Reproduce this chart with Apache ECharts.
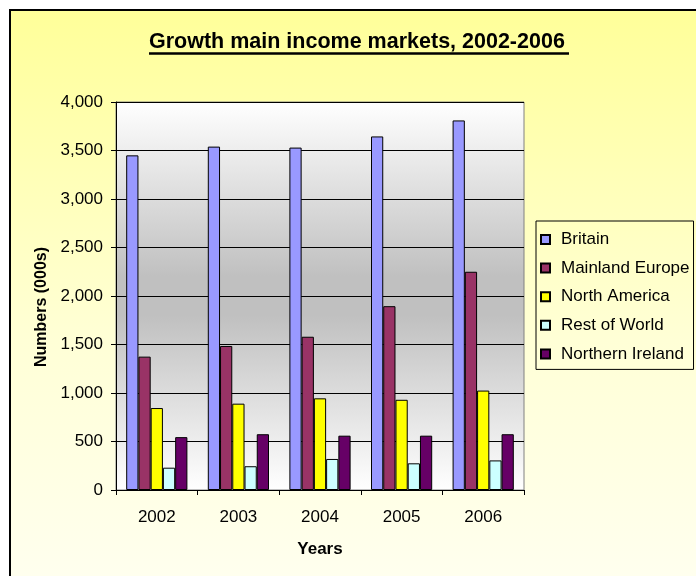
<!DOCTYPE html>
<html>
<head>
<meta charset="utf-8">
<style>
  html, body { margin: 0; padding: 0; background: #ffffff; }
  #chart { width: 696px; height: 576px; }
</style>
<script src="https://cdn.jsdelivr.net/npm/echarts@6/dist/echarts.min.js"></script>
</head>
<body>
<div id="chart"></div>
<script>
const categories = ['2002', '2003', '2004', '2005', '2006'];
const seriesNames = ['Britain', 'Mainland Europe', 'North America', 'Rest of World', 'Northern Ireland'];
const britain = [3450, 3540, 3530, 3645, 3810];
const mainlandEurope = [1375, 1485, 1580, 1895, 2250];
const northAmerica = [845, 890, 945, 930, 1025];
const restOfWorld = [230, 245, 320, 275, 305];
const northernIreland = [545, 575, 560, 560, 575];
const seriesColors = ['#9999FF', '#993366', '#FFFF00', '#CCFFFF', '#660066'];
const yTicks = [0, 500, 1000, 1500, 2000, 2500, 3000, 3500, 4000];

const FONT = "'Liberation Sans', Arial, sans-serif";
const allData = [britain, mainlandEurope, northAmerica, restOfWorld, northernIreland];

const chart = echarts.init(document.getElementById('chart'), null, { renderer: 'canvas' });

const option = {
  backgroundColor: '#ffffff',
  animation: false,
  textStyle: { fontFamily: FONT },
  graphic: [
    {
      type: 'rect',
      z: -100,
      silent: true,
      shape: { x: 10, y: 10, width: 720, height: 600 },
      style: {
        fill: new echarts.graphic.LinearGradient(0, 0, 0, 1, [
          { offset: 0, color: '#FFFF99' },
          { offset: 0.55, color: '#FFFFD6' },
          { offset: 1, color: '#FFFFF2' }
        ]),
        stroke: '#000000',
        lineWidth: 2
      }
    },
    {
      type: 'line',
      silent: true,
      shape: { x1: 149, y1: 53.5, x2: 569, y2: 53.5 },
      style: { stroke: '#000000', lineWidth: 2.5 }
    }
  ],
  title: {
    text: 'Growth main income markets, 2002-2006',
    left: 149,
    top: 31,
    padding: 0,
    textStyle: { fontFamily: FONT, fontSize: 21.5, fontWeight: 'bold', color: '#000000' }
  },
  legend: {
    orient: 'vertical',
    left: 536,
    top: 221,
    padding: [10, 4, 7, 4],
    itemGap: 11.6,
    itemWidth: 9,
    itemHeight: 9,
    icon: 'rect',
    borderColor: '#000000',
    borderWidth: 1,
    backgroundColor: 'transparent',
    data: seriesNames,
    textStyle: { fontFamily: FONT, fontSize: 17, color: '#000000', padding: [0, 0, 0, 6] }
  },
  grid: {
    left: 116,
    right: 172,
    top: 102,
    bottom: 86,
    show: true,
    borderColor: '#808080',
    borderWidth: 1,
    backgroundColor: new echarts.graphic.LinearGradient(0, 0, 0, 1, [
      { offset: 0, color: '#FFFFFF' },
      { offset: 0.45, color: '#C0C0C0' },
      { offset: 0.55, color: '#C0C0C0' },
      { offset: 1, color: '#FFFFFF' }
    ])
  },
  xAxis: {
    type: 'category',
    data: categories,
    name: 'Years',
    nameLocation: 'middle',
    nameGap: 51,
    nameTextStyle: { fontFamily: FONT, fontSize: 17, fontWeight: 'bold', color: '#000000' },
    axisLine: { show: true, lineStyle: { color: '#000000', width: 1 } },
    axisTick: { show: true, length: 5, lineStyle: { color: '#000000' } },
    axisLabel: { fontFamily: FONT, fontSize: 17, color: '#000000', margin: 19 }
  },
  yAxis: {
    type: 'value',
    min: yTicks[0],
    max: yTicks[yTicks.length - 1],
    interval: yTicks[1] - yTicks[0],
    name: 'Numbers (000s)',
    nameLocation: 'middle',
    nameGap: 66,
    nameTextStyle: { fontFamily: FONT, fontSize: 16, fontWeight: 'bold', color: '#000000', padding: [0, 22, 0, 0] },
    axisLine: { show: true, lineStyle: { color: '#000000', width: 1 } },
    axisTick: { show: true, length: 5, lineStyle: { color: '#000000' } },
    axisLabel: {
      fontFamily: FONT, fontSize: 17, color: '#000000', margin: 13,
      formatter: function (v) { return v.toLocaleString('en-US'); }
    },
    splitLine: { show: true, lineStyle: { color: '#000000', width: 1 } }
  },
  series: seriesNames.map(function (name, i) {
    return {
      name: name,
      type: 'bar',
      data: allData[i],
      barGap: '0%',
      barCategoryGap: '25%',
      itemStyle: { color: seriesColors[i], borderColor: '#000000', borderWidth: 1 }
    };
  })
};

chart.setOption(option);
</script>
</body>
</html>
